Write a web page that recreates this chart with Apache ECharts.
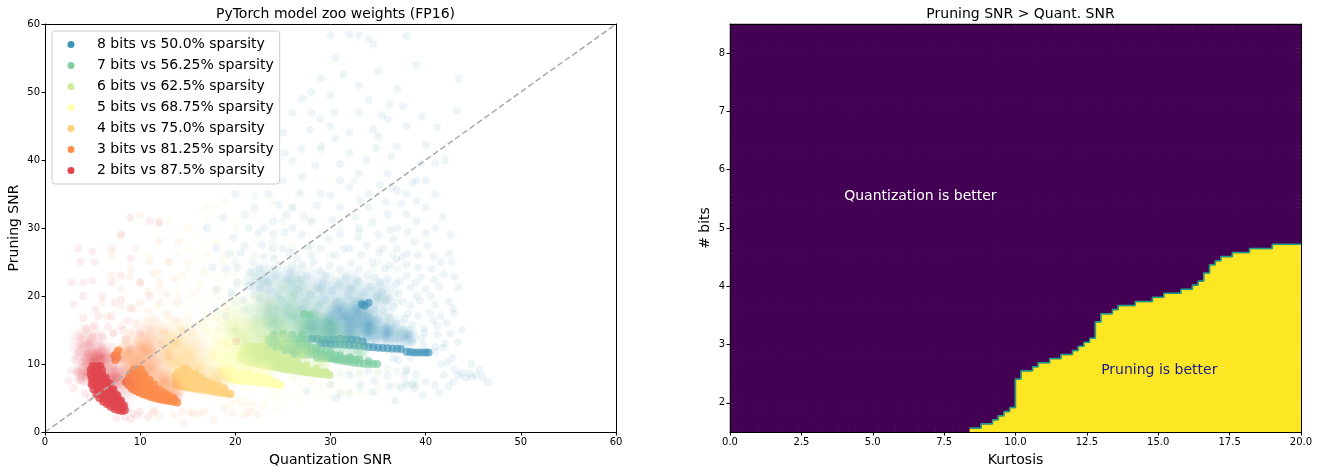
<!DOCTYPE html>
<html><head><meta charset="utf-8">
<style>html,body{margin:0;padding:0;background:#fff}#c{width:1318px;height:474px}</style>
<script src="https://cdn.jsdelivr.net/npm/echarts@6/dist/echarts.min.js"></script>
</head><body><div id="c"></div>
<script>
const labels8="8 bits vs 50.0% sparsity",labels7="7 bits vs 56.25% sparsity",labels6="6 bits vs 62.5% sparsity",labels5="5 bits vs 68.75% sparsity",labels4="4 bits vs 75.0% sparsity",labels3="3 bits vs 81.25% sparsity",labels2="2 bits vs 87.5% sparsity";
const sparse8=[[43.3,47.2],[32,58.5],[30,58.3],[33,58.4],[34,57.8],[38,58.2],[34.5,57],[43.5,52],[30.5,55],[35,53],[29,52],[28,50],[27,49],[30,49.5],[37,50.5],[33,51],[39,54],[26,47],[28,47],[33,47],[36,46],[38,45],[30,45],[34.5,44.5],[35,43.5],[30.5,43.2],[29,42],[32,41],[37,42],[42,40],[41,39.5],[39,37],[40,37],[36.5,36],[37,35.5],[31,37],[27,37.5],[33,38],[25,37],[26,33],[22,43.6],[25,44],[24,41],[27,41.6],[36,38],[32,36],[34,35],[38,35],[39,34],[41,35],[29,35],[31,33],[28,31],[27,29],[34,33],[36,32],[38,32],[40,33],[39,31],[37,30],[40,29.3],[41,30],[35,29],[33,30],[31,29],[29,27],[25,27],[23,30],[21,32],[20,35],[23.5,35],[22,33],[24,31],[26,30],[42.5,26.2],[42.7,25],[40.8,25.8],[41.6,25],[37,27],[38.8,28],[35.5,27],[33.8,27.5],[32,27],[30.5,26],[28.2,25],[26.5,25.5],[24.5,24.5],[22.5,24],[39.2,26],[38,24.6],[36.2,24.5],[34.4,25],[33,24],[31,24],[29.5,23],[27.5,23],[25.5,22.5],[23.5,22],[21.5,21.5],[20.2,22],[40.6,24],[41.9,23.2],[39.5,22.8],[38,23],[36,22.5],[34.6,22.8],[32.8,22.2],[30.8,21.6],[28.6,21.2],[26.6,21],[24.4,20],[22.6,19.6],[43.4,21.2],[41.4,21.4],[40,21],[38.4,21.2],[37.2,20.4],[35.4,20.6],[33.6,20.5],[31.8,20],[29.4,19.5],[27.4,19.2],[25.4,18.5],[23.4,18],[42.4,19.2],[41,18.7],[39.4,19.3],[38.4,18.6],[36.6,18.4],[34.6,18],[32.6,18.2],[30.6,18],[28.4,17.5],[26.4,16.8],[24,16],[43,17.4],[41.6,17],[40.4,17.5],[39.2,17.1],[37.8,16.6],[36.2,16.8],[35,16.5],[42.2,16],[41.2,15.6],[39.8,15.2],[38.6,15.8],[37.4,15],[36,15.2],[42.6,14.5],[41.2,14.3],[39.6,13.8],[38.2,14.4],[37.2,13.8],[35.8,14],[34.8,13.6],[42,13],[41,12.5],[39.8,12.8],[38.6,13.2],[36.8,13.2],[41.8,12.4],[42.8,10.9],[42.3,10.2],[41.6,10],[38.4,11],[37.1,10.6],[36.6,10.8],[44.8,10],[43,9.2],[43.8,8.6],[44.9,8.1],[45.3,8.4],[44.6,8.6],[45.7,9.1],[46.6,7.3],[43.4,8.4],[42.9,7.4],[41.9,8.4],[40,7.4],[39,8.5],[38,7],[37.4,6.5],[36,8.3],[34,9],[32,8.4],[42.4,6.7],[41,6.9],[38,9.1],[36.8,4.6],[34.5,5.9],[30.6,5],[30,7],[27.5,6],[38.8,6.4],[38.6,7],[21,18],[22,16.5],[20,15],[19,17],[18,21],[19,24],[18,27],[17,30],[22.8,27.5],[24,25.5],[20.6,26.4],[18.7,31.5],[24.2,38.8],[21.4,30],[19.8,28.6]];
const sparse8b=[[37.6,19.2],[36.9,21.8],[35.8,19.3],[34.2,21.4],[33.2,19.2],[32.2,21.1],[30.2,20.8],[28.9,23.8],[27.1,24.6],[25.8,23.6],[24.2,23],[23,25.8],[21.8,25],[21,27.3],[22.4,29.2],[25.2,29.4],[27.6,27.2],[29.8,28.4],[31.4,26.9],[33.2,26],[35.1,26.4],[36.6,28.3],[38.1,29.4],[34.4,30.8],[32.6,31.6],[30.2,31.2],[28.6,33.3],[26.7,35.2],[24.6,33.4],[22.9,37],[30,34.8],[33.1,34.1],[35.8,33.8],[37.4,33.6],[38.6,36.6],[35.2,36.4],[33.8,40],[31,39.4],[28.4,39.2],[26,39.8],[23.6,38],[36.4,40.5],[39.5,39.5],[34.8,41.8],[30.4,47],[32,44],[27.8,44.4],[25.2,41],[28.9,46.1],[31.4,52.6],[34,48.8],[36.2,48.2],[39.6,46.4],[41.2,44.8],[40,42.2],[35.4,46.6],[37.6,47.9],[41.8,31.6],[42.6,29],[43,22.8],[40.5,20],[39,20],[37.3,22.2],[35.7,24],[33.9,23.1],[32.2,24.8],[29.9,24.4],[28,26],[25.7,26.4],[23.9,27],[40.2,27.4],[38.1,26.2],[36.9,25.4],[36.3,29.7],[32.9,28.6],[27.2,31.7],[25.4,32],[24,29.1],[39.9,14.6],[40.8,16.4],[38.1,17.4],[36.9,16],[35.6,17.8],[34,16.9],[32.9,15.8],[31.4,17],[29.7,16.2],[28.8,18.6],[27,18],[25.3,17.2],[24.8,19.5],[26.1,20.2],[27.9,20.3],[30.6,19.2],[32.3,19.3],[34.9,19.8],[36.1,19.6],[38.9,22],[40.9,22.4],[39.2,24.2],[37.5,25.7],[35.2,22],[31.6,22.8],[29.2,21.9],[26.9,22.4],[22.6,21.1],[23.6,20.8],[20.8,19.4],[19.6,20.6],[21.6,23.5],[20.2,24.1],[19.4,26.2],[17.6,24.2],[41,11.8],[43.4,13.2],[43.8,15],[42.9,18.2],[44.2,8],[46,8],[41.4,5.8],[39.7,5.4],[37.8,8.4],[36.2,6.7],[34.6,7.5],[33.2,7]];
const cloud8=[[28,15],[30,15],[32,15],[34,15.5],[36,15],[30,17.5],[33,17.5],[27,18],[24,18],[29,21],[32,21],[35,20],[26,22],[23,22]];
const mist8=[[30,14.5],[32,14.5],[34,14.5],[36,14.5],[28,15.5],[30,16],[32,16.5],[34,16],[31,18],[33,18],[38,14]];
const core8=[[38,11.8],[38.4,11.75],[38.8,11.7],[39.2,11.7],[39.6,11.7],[40,11.7],[40.3,11.7],[33.5,12.6],[34,12.5],[34.5,12.45],[35,12.4],[35.5,12.35],[36,12.3],[36.5,12.25],[37,12.25],[37.4,12.2],[29,13],[29.5,13],[30,12.95],[30.5,12.9],[31,12.9],[31.5,12.85],[32,12.8],[32.5,12.75],[33,12.7],[28,13.7],[28.6,13.7],[29.2,13.6],[29.8,13.6],[30.4,13.6],[31,13.7],[31.6,13.6],[32.2,13.6],[32.8,13.5],[33.4,13.3],[33.3,18.8],[34,19],[33.6,18.6]];
const sparse7=[[29,41.5],[32.5,37],[24,37.3],[22,34.7],[26,33],[25,31],[31,30],[33,29.5],[29,29],[35,25],[36.5,26],[37,24],[34.5,24],[30,26],[28,27.5],[26,27],[24,28],[22,26],[20,25],[33,22],[31,22],[29,21],[27,21.5],[25,21],[23,22.5],[21,22],[35.3,19.5],[37,19],[36,17],[33,20],[31,19.5],[29,19],[26,19],[23.5,19],[21.5,18],[37.2,14.5],[36,12],[38,9.2],[37.8,7.2],[39,7],[37,6.8],[38.8,7.4],[33,6.5],[32,5.7],[31,5.6],[35,9],[36,9.4],[37,9],[33,8.6],[31,8.8],[19.5,20],[20,19],[18,18],[25,16],[23,16],[27,16],[29,16],[31,16],[33,16],[35,15],[28,24],[26,24.5],[24,24],[22,23],[24.5,18],[28,20],[30,18],[32,18],[34,17.5],[22,20]];
const cloud7=[[24,14],[26,14],[28,14.5],[30,14],[32,13],[25,17],[28,17],[23,17],[26,20]];
const mist7=[[25,14.5],[27,15],[29,14],[31,13],[33,11.8],[24,16],[26,17],[28,16.5],[30,15.5]];
const core7=[[30,10.8],[30.5,10.65],[31,10.5],[31.5,10.4],[32,10.3],[32.5,10.2],[33,10.1],[33.5,10.05],[34,10],[34.5,10],[34.9,10],[31,11.3],[32,11],[33,10.7],[34,10.4],[28.6,10.9],[29,10.9],[29.4,10.9],[29.8,10.9],[30.2,10.9],[30.6,10.9],[31,10.8],[31.4,10.8],[31.8,10.7],[32.2,10.7],[32.6,10.6],[26,11.4],[26.5,11.4],[27,11.4],[27.5,11.4],[28,11.4],[28.5,11.4],[29,11.4],[29.5,11.3],[30,11.3],[30.5,11.3],[25,11.9],[25.5,11.9],[26,11.9],[26.5,11.9],[27,11.9],[27.5,11.9],[28,11.9],[28.5,11.9],[29,11.9],[29.5,11.9],[30,11.8],[24,12.4],[24.5,12.4],[25,12.4],[25.5,12.4],[26,12.4],[26.5,12.4],[27,12.4],[27.5,12.4],[28,12.4],[28.5,12.4],[23.5,13],[24,13],[24.5,13],[25,13],[25.5,13],[26,13],[26.5,13],[27,13],[27.5,13],[23.5,13.6],[24.2,13.6],[25,13.6],[25.8,13.6],[26.6,13.6],[27.4,13.6],[24,14.3],[25,14.3],[26,14.3],[27,14.3],[27.2,17.3],[27.8,17.2]];
const sparse6=[[30,37],[27,35],[24,34],[22,32],[20,30],[18,33],[16,29],[28,31],[26,28],[24,26],[22,28],[20,26],[18,28],[27,24],[25,22],[23,24],[21,23],[19,23],[17,24],[28,21],[26,20],[24,19],[22,20],[20,20],[18,20],[16,19],[30,19],[29,17],[27,16],[25,15.5],[23,16],[21,16.5],[19,16],[17,15],[31,14],[33,13],[32,9],[33.5,8],[35,6.5],[33,5.8],[32,5.8],[31,6],[34,5.9],[30,5],[33,9.2],[35,8.6],[31,8],[30,7],[29,6.8],[28,7.5],[26,8],[24,8.5],[15,24],[14,26],[17,31],[19,34],[21,37],[22,40],[20.1,21.5],[21,19],[22.8,21.8],[24.6,21],[26.5,22.5],[18.4,25.3],[16.5,22]];
const cloud6=[[21,11],[23,11.5],[25,11.5],[27,10.5],[21,14],[23,14],[25,14],[20,17],[23,18]];
const mist6=[[21,13.5],[23,13.5],[25,13],[27,11.5],[29,10],[20,15],[22,15.5]];
const core6=[[20.5,11],[21,10.5],[21.5,10.3],[22,10.15],[22.5,10],[23,9.85],[23.5,9.7],[24,9.55],[24.5,9.45],[25,9.3],[25.5,9.2],[26,9.1],[26.5,9],[27,8.9],[27.5,8.8],[28,8.7],[28.5,8.6],[29,8.5],[29.5,8.45],[29.9,8.4],[24.5,11.5],[25.5,11],[26.5,10.4],[27.5,9.8],[28.5,9.3],[29.5,8.8],[27.4,9],[27.8,9],[28.2,8.9],[28.6,8.9],[29,8.8],[25.4,9.5],[25.8,9.4],[26.2,9.4],[26.6,9.3],[27,9.3],[23.6,9.9],[24,9.9],[24.4,9.8],[24.8,9.8],[25.2,9.7],[25.6,9.7],[26,9.6],[26.4,9.6],[26.8,9.6],[27.2,9.6],[22.2,10.4],[22.6,10.4],[23,10.3],[23.4,10.3],[23.8,10.2],[24.2,10.2],[24.6,10.1],[25,10.1],[25.4,10.1],[25.8,10.1],[26.2,10.1],[20.9,10.9],[21.3,10.9],[21.7,10.8],[22.1,10.8],[22.5,10.8],[22.9,10.7],[23.3,10.7],[23.7,10.7],[24.1,10.7],[24.5,10.7],[24.9,10.7],[25.3,10.7],[20.6,11.4],[21,11.4],[21.4,11.4],[21.8,11.3],[22.2,11.3],[22.6,11.3],[23,11.3],[23.4,11.3],[23.8,11.3],[24.2,11.3],[20.8,11.9],[21.2,11.9],[21.6,11.9],[22,11.9],[22.4,11.9],[22.8,11.9],[23.2,11.9],[23.6,11.9],[21,12.5],[21.4,12.5],[21.8,12.5],[22.2,12.5],[22.6,12.5],[23,12.5]];
const sparse5=[[24,39],[22,33],[20,31],[18,28],[16,26],[22,26],[20,24],[18,23],[16,22],[14,21],[24,22],[23,20],[21,20],[19,19],[17,19],[15,18],[25,17],[23,16],[21,15.5],[19,15],[17,15],[25,14],[23,13],[21,12.5],[26,13],[27,11],[29,10],[28,6],[27,5.6],[26,5.3],[25,5],[24,4.8],[29,5],[27,4.5],[30,7],[28,7.6],[26,7.8],[27,6.8],[24.5,5.8],[23.8,6],[23.2,4.5],[19,25],[17,27],[15,27],[20.5,22],[18.7,21],[16.6,18]];
const cloud5=[[18,9.5],[20,9],[22,9],[19,12],[21,12],[18,15],[20,16]];
const mist5=[[19,10],[21,9.5],[23,9],[18,11.5],[20,11.5],[19,13]];
const core5=[[19.4,7.8],[20,7.65],[20.6,7.55],[21.2,7.45],[21.8,7.4],[22.4,7.3],[23,7.2],[23.6,7.1],[24.2,7],[24.7,6.9],[21.5,8.6],[22.5,8.2],[23.5,7.8],[24.2,7.4],[23,7.4],[23.4,7.4],[23.8,7.3],[20.2,7.8],[20.6,7.8],[21,7.8],[21.4,7.7],[21.8,7.7],[22.2,7.7],[22.6,7.6],[19.2,8.1],[19.6,8.1],[20,8.1],[20.4,8.1],[20.8,8],[21.2,8],[21.6,8],[22,8],[22.4,8],[22.8,7.9],[18.8,8.5],[19.2,8.5],[19.6,8.5],[20,8.5],[20.4,8.5],[20.8,8.5],[21.2,8.5],[18.6,9],[19,9],[19.4,9],[19.8,9]];
const sparse4=[[17,33],[15,30],[13,31],[19,26],[17,26],[15,25],[13,25],[11,26],[20,23],[18,21],[16,21],[14,20],[12,21],[19,18],[17,17],[15,17],[13,17],[16.5,16],[14.5,15],[12.5,15],[11.2,14],[17.8,13.5],[16,13],[13.7,12.8],[19,5.3],[20.5,4.6],[21,3.9],[22,3.9],[21.5,4.4],[23,3.8],[20,4.8],[19.5,4],[24.5,3.6],[20,13.4],[19,13],[17.5,11],[16.5,12],[18,16.8],[15.4,20],[13.3,19],[11.8,18.4],[14.4,23],[16.6,23.4],[12,23.5],[18.2,15],[10.8,16.5],[13,14.5],[15.5,14.6],[14,16.2]];
const cloud4=[[14,8.5],[16,8],[18,7.5],[14,11],[16,11],[13,14],[15,14]];
const mist4=[[14,10],[16,9.5],[18,8],[13,11],[15,11.5],[13.5,13]];
const core4=[[13.8,7],[14.2,6.8],[14.7,6.6],[15.2,6.5],[15.7,6.4],[16.2,6.3],[16.7,6.2],[17.2,6.1],[17.7,5.95],[18.2,5.85],[18.7,5.75],[19.2,5.65],[19.5,5.6],[15.8,8.6],[16.4,8],[17,7.5],[17.6,7.1],[18.2,6.8],[18.8,6.4],[17.4,6.3],[17.8,6.2],[18.2,6.1],[18.6,6],[19,5.9],[15,6.7],[15.4,6.7],[15.8,6.7],[16.2,6.6],[16.6,6.6],[17,6.6],[17.4,6.6],[17.8,6.5],[18.2,6.4],[14.1,7.1],[14.5,7.1],[14.9,7.1],[15.3,7.1],[15.7,7],[16.1,7],[16.5,7],[16.9,7],[17.3,6.9],[13.8,7.6],[14.2,7.6],[14.6,7.6],[15,7.6],[15.4,7.6],[15.8,7.6],[16.2,7.6],[16.6,7.5],[13.7,8.2],[14.1,8.2],[14.5,8.2],[14.9,8.2],[15.3,8.2],[15.7,8.2],[14,8.8],[14.4,8.8],[14.8,8.8],[15.2,8.8],[14.5,9.3],[14.9,9.3]];
const sparse3=[[10,32],[12,31],[8,29],[14,28],[12,28],[9.5,27],[7,26],[13,25],[11,25],[9,24],[7,23],[13.6,22.5],[12,22],[10,22],[8,21],[14,19],[12,19],[10,19],[8,18.5],[13.6,16.5],[11.5,16.6],[9.5,16],[8,15.6],[14.4,15],[12.5,14.6],[10.5,14],[8.5,13.7],[14,13.2],[12.2,13],[10,12.6],[8.7,11.8],[13,11.8],[11.3,11.6],[13,11],[11.8,10.5],[9.9,10.8],[14.4,3],[15.2,2.9],[15.6,2.7],[16.2,2.8],[17.7,1.8],[14.5,1.3],[13.5,2.5],[11.3,2.8],[12,2.4],[9.8,13.5],[7.2,14.6],[6.5,17],[6,19],[8.9,14.6],[11,15.2],[12.8,17.4],[10.9,17.8],[9.3,18],[10.8,20.6],[12.8,20.3],[8.9,22.8],[11.4,23.3],[19.7,2.8],[21,2.5],[21.5,3],[22.3,2.6],[18.8,3.4],[16.8,3]];
const cloud3=[[9.5,12],[11.5,11],[9,9],[11,8],[12.5,7],[11,14]];
const mist3=[[9.5,10],[11,9.5],[12.5,7.5],[13.5,6],[8.5,11.5],[10.5,12]];
const core3=[[8.5,7.3],[8.8,6.9],[9.1,6.5],[9.5,6.1],[9.9,5.8],[10.3,5.55],[10.7,5.35],[11.1,5.15],[11.5,5],[11.9,4.87],[12.3,4.75],[12.7,4.65],[13.1,4.55],[13.5,4.45],[13.9,4.35],[10.5,8.4],[11,7.7],[11.5,7],[12,6.3],[12.5,5.8],[13,5.4],[13.5,5],[12.4,4.9],[12.8,4.9],[13.2,4.8],[13.6,4.7],[11,5.4],[11.4,5.4],[11.8,5.3],[12.2,5.2],[12.6,5.1],[13,5],[9.8,5.9],[10.2,5.9],[10.6,5.8],[11,5.8],[11.4,5.7],[11.8,5.6],[12.2,5.6],[9.2,6.3],[9.6,6.3],[10,6.3],[10.4,6.2],[10.8,6.2],[11.2,6.2],[11.6,6.2],[8.8,6.9],[9.2,6.9],[9.6,6.8],[10,6.8],[10.4,6.8],[10.8,6.8],[11.2,6.7],[8.6,7.4],[9,7.4],[9.4,7.4],[9.8,7.4],[10.2,7.4],[10.6,7.4],[11,7.3],[8.8,8],[9.2,8],[9.6,8],[10,8],[10.4,8],[9,8.6],[9.4,8.6],[9.8,8.6],[10.2,8.6],[9.3,9.2],[9.7,9.2],[10.1,9.2],[7.5,11.5],[7.6,11],[7.4,10.6],[7.7,12],[7.3,11.2]];
const sparse2=[[9,31.5],[11,31],[12,30.7],[8,29],[3.5,27],[5,26.5],[7,27],[3.7,25],[5.2,25],[9,25.5],[2.8,22],[4,22],[5,22.2],[7,22],[8,23],[10,22],[4,20],[6,20],[8,19.5],[11,20],[3,18.8],[5.3,18],[7.3,19],[9,18.2],[4,16.8],[5.6,17],[7,17],[8.7,16.4],[4.3,15.2],[5.2,15.7],[6.6,15.5],[8.2,15],[20.1,13.3],[10,14.5],[3.7,14],[5,14],[6,14],[7.2,14.5],[8.5,13.6],[3.8,12.8],[4.6,13],[6,12.6],[7,12.6],[9,12.2],[3.5,11.7],[4.4,11.6],[7,11],[8,10.8],[3.1,10.7],[3.9,10.3],[7.2,9.6],[8.4,9.2],[2.7,9],[3.4,8.8],[2.5,7.5],[3.7,7.6],[7.5,8],[8.5,7.5],[3,6.4],[4.2,5.7],[4.7,5],[8.6,3.7],[9.2,2.8],[9.7,2.4],[9,1.9],[8.4,2.2],[10,3],[7.5,2],[11.5,3.1],[10.8,2.2],[14,5.2]];
const cloud2=[[5,10.5],[6.5,9.5],[4.6,13],[8,7]];
const mist2=[[5,10.6],[4.2,8.5],[7.2,8],[6,11]];
const core2=[[4.9,7],[5.1,6.3],[5.4,5.6],[5.7,5],[6.1,4.5],[6.5,4.1],[6.9,3.7],[7.3,3.4],[7.7,3.2],[8.1,3.1],[8.4,3.2],[8.3,3.9],[8,4.6],[7.6,5.4],[7.2,6.3],[6.8,7.2],[6.4,8],[5,9.7],[5.4,9.7],[5.8,9.7],[4.8,9.1],[5.2,9.1],[5.6,9.1],[6,9.1],[4.8,8.5],[5.2,8.5],[5.6,8.5],[6,8.5],[4.9,7.9],[5.3,7.9],[5.7,7.9],[6.1,7.9],[5,7.3],[5.4,7.3],[5.8,7.3],[6.2,7.3],[6.5,7.3],[5.4,6.7],[5.8,6.7],[6.2,6.7],[6.6,6.7],[5.6,6.1],[6,6.1],[6.4,6.1],[6.8,6.1],[7.1,6.1],[5.9,5.5],[6.3,5.5],[6.7,5.5],[7.1,5.5],[7.4,5.5],[6.2,4.9],[6.6,4.9],[7,4.9],[7.4,4.9],[7.7,4.9],[6.7,4.3],[7.1,4.3],[7.5,4.3],[7.9,4.3],[7.3,3.8],[7.7,3.8],[8.1,3.8],[8,3.4]];
const diagonal=[[0,0],[60,60]];
const colCount=100,rowCount=100;
const filledRows=[0,0,0,0,0,0,0,0,0,0,0,0,0,0,0,0,0,0,0,0,0,0,0,0,0,0,0,0,0,0,0,0,0,0,0,0,0,0,0,0,0,0,1,1,2,2,3,4,5,6,13,15,15,16,17,17,18,18,19,19,20,21,22,23,27,29,29,30,31,31,31,32,32,32,33,33,34,34,34,35,35,36,37,39,41,42,43,43,44,44,44,45,45,45,45,46,46,46,46,46];
const bitTicks=[2,3,4,5,6,7,8];
const groups=[
 {name:labels8,rgb:'61,146,184',sparse:sparse8.concat(sparse8b),cloud:cloud8,mist:mist8,core:core8,coreOp:0.65},
 {name:labels7,rgb:'130,207,163',sparse:sparse7,cloud:cloud7,mist:mist7,core:core7,coreOp:0.75},
 {name:labels6,rgb:'208,236,156',sparse:sparse6,cloud:cloud6,mist:mist6,core:core6,coreOp:0.9},
 {name:labels5,rgb:'255,255,179',sparse:sparse5,cloud:cloud5,mist:mist5,core:core5,coreOp:1},
 {name:labels4,rgb:'254,210,127',sparse:sparse4,cloud:cloud4,mist:mist4,core:core4,coreOp:0.9},
 {name:labels3,rgb:'252,141,77',sparse:sparse3,cloud:cloud3,mist:mist3,core:core3,coreOp:0.85},
 {name:labels2,rgb:'224,69,78',sparse:sparse2,cloud:cloud2,mist:mist2,core:core2,coreOp:0.8}];
const font='"DejaVu Sans"';
const series=[];
groups.forEach(g=>{
 const color=`rgb(${g.rgb})`;
 const soft=a=>new echarts.graphic.RadialGradient(0.5,0.5,0.5,[{offset:0,color:`rgba(${g.rgb},${a})`},{offset:1,color:`rgba(${g.rgb},0)`}]);
 const add=(data,size,itemStyle)=>series.push({type:'scatter',name:g.name,xAxisIndex:0,yAxisIndex:0,data,symbolSize:size,silent:true,itemStyle});
 add(g.cloud,44,{color:soft(0.3),opacity:1});
 add(g.mist,26,{color:soft(0.55),opacity:1});
 add(g.sparse,8,{color,opacity:0.09});
 add(g.core,8,{color,opacity:g.coreOp});
});
series.push({type:'line',xAxisIndex:0,yAxisIndex:0,data:diagonal,symbol:'none',z:5,silent:true,lineStyle:{color:'#aaaaaa',width:1.5,type:[6,3]}});
const purple='#440154',yellow='#fde725';
const cells=[];
for(let c=0;c<colCount;c++)for(let r=0;r<rowCount;r++){
 const on=r<filledRows[c];
 const outer=c===0||r===0||c===colCount-1||r===rowCount-1;
 cells.push({value:[c,r,on?1:0],itemStyle:{borderColor:on?yellow:purple,borderWidth:outer?0:0.6}});
}
series.push({type:'heatmap',xAxisIndex:2,yAxisIndex:2,data:cells,silent:true,progressive:0,z:2});
const edge=[];
for(let c=42;c<colCount;c++)edge.push([c*0.2,1.5+filledRows[c]*0.07]);
edge.push([20,1.5+filledRows[colCount-1]*0.07]);
series.push({type:'line',xAxisIndex:1,yAxisIndex:1,step:'end',data:edge,symbol:'none',z:4,silent:true,lineStyle:{color:'#1f9e89',width:1.5}});
const noteStyle=c=>({show:true,position:'right',distance:0,color:c,fontSize:14,fontFamily:font,opacity:1});
series.push({type:'scatter',xAxisIndex:1,yAxisIndex:1,symbolSize:0,z:6,silent:true,itemStyle:{opacity:1},data:[
 {value:[4,5.55],label:{...noteStyle('#ffffff'),formatter:'Quantization is better'}},
 {value:[13,2.55],label:{...noteStyle('#1a1a8c'),formatter:'Pruning is better'}}]});
const lineOnly={show:true,onZero:false,lineStyle:{color:'#000',width:1}};
const blank={show:false};
const tickStyle={show:true,length:3.5,lineStyle:{color:'#000',width:1}};
const labelStyle={color:'#000',fontSize:10,fontFamily:font,margin:5};
const nameStyle={color:'#000',fontSize:14,fontFamily:font};
const frame=(pos,grid,min,max)=>({type:'value',gridIndex:grid,position:pos,min,max,z:10,axisLine:lineOnly,axisTick:blank,axisLabel:blank,splitLine:blank});
const hidden=(grid)=>({type:'category',gridIndex:grid,show:false,data:Array.from({length:100},(_,i)=>i)});
const opt={
 animation:false,backgroundColor:'#fff',
 title:[
  {text:'PyTorch model zoo weights (FP16)',left:330.5,top:2,textAlign:'center',textStyle:{fontSize:14,fontWeight:'normal',color:'#000',fontFamily:font}},
  {text:'Pruning SNR > Quant. SNR',left:1015.5,top:2,textAlign:'center',textStyle:{fontSize:14,fontWeight:'normal',color:'#000',fontFamily:font}}],
 grid:[{left:45,top:24,width:571,height:408},{left:730,top:24,width:571,height:408}],
 visualMap:{show:false,seriesIndex:series.findIndex(s=>s.type==='heatmap'),min:0,max:1,dimension:2,inRange:{color:[purple,yellow]}},
 legend:{left:52,top:31,orient:'vertical',padding:[5,6,5,15.5],itemWidth:42,itemHeight:7,itemGap:4,symbolKeepAspect:true,icon:'circle',
  backgroundColor:'rgba(255,255,255,0.8)',borderColor:'#cccccc',borderWidth:1,borderRadius:3,selectedMode:false,z:20,
  textStyle:{fontSize:14,fontFamily:font,color:'#000',lineHeight:17},
  data:groups.map(g=>({name:g.name,itemStyle:{color:`rgb(${g.rgb})`,opacity:1}}))},
 xAxis:[
  {type:'value',gridIndex:0,min:0,max:60,interval:10,z:10,name:'Quantization SNR',nameLocation:'middle',nameGap:21,nameTextStyle:nameStyle,axisLine:lineOnly,axisTick:tickStyle,axisLabel:labelStyle,splitLine:blank},
  {type:'value',gridIndex:1,min:0,max:20,interval:2.5,z:10,name:'Kurtosis',nameLocation:'middle',nameGap:21,nameTextStyle:nameStyle,axisLine:lineOnly,axisTick:tickStyle,axisLabel:{...labelStyle,formatter:v=>v.toFixed(1)},splitLine:blank},
  hidden(1),frame('top',0,0,60),frame('top',1,0,20)],
 yAxis:[
  {type:'value',gridIndex:0,min:0,max:60,interval:10,z:10,name:'Pruning SNR',nameLocation:'middle',nameGap:24,nameTextStyle:nameStyle,axisLine:lineOnly,axisTick:tickStyle,axisLabel:labelStyle,splitLine:blank},
  {type:'value',gridIndex:1,min:1.5,max:8.5,z:10,name:'# bits',nameLocation:'middle',nameGap:18,nameTextStyle:nameStyle,axisLine:lineOnly,axisTick:{...tickStyle,customValues:bitTicks},axisLabel:{...labelStyle,customValues:bitTicks},splitLine:blank},
  hidden(1),frame('right',0,0,60),frame('right',1,1.5,8.5)],
 series
};
const chart=echarts.init(document.getElementById('c'),null,{renderer:'canvas'});
chart.setOption(opt);
</script></body></html>
